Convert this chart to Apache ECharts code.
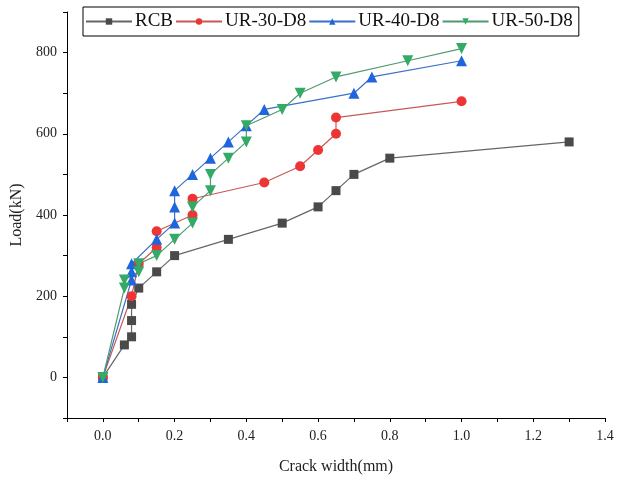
<!DOCTYPE html>
<html>
<head>
<meta charset="utf-8">
<script src="https://cdn.jsdelivr.net/npm/echarts@6/dist/echarts.min.js"></script>
<style>
html, body { margin: 0; padding: 0; background: #fff; }
#main { width: 618px; height: 479px; }
</style>
</head>
<body>
<div id="main"></div>
<script>
var seriesNames = ['RCB', 'UR-30-D8', 'UR-40-D8', 'UR-50-D8'];

var rcbWidth = [0, 0.06, 0.08, 0.08, 0.08, 0.1, 0.15, 0.2, 0.35, 0.5, 0.6, 0.65, 0.7, 0.8, 1.3];
var rcbLoad  = [0, 80, 100, 140, 180, 220, 260, 300, 340, 380, 420, 460, 500, 540, 580];

var ur30Width = [0, 0.08, 0.1, 0.15, 0.15, 0.25, 0.25, 0.45, 0.55, 0.6, 0.65, 0.65, 1.0];
var ur30Load  = [0, 200, 280, 320, 360, 400, 440, 480, 520, 560, 600, 640, 680];

var ur40Width = [0, 0.08, 0.08, 0.08, 0.15, 0.2, 0.2, 0.2, 0.25, 0.3, 0.35, 0.4, 0.45, 0.7, 0.75, 1.0];
var ur40Load  = [0, 240, 260, 280, 340, 380, 420, 460, 500, 540, 580, 620, 660, 700, 740, 780];

var ur50Width = [0, 0.06, 0.06, 0.1, 0.1, 0.15, 0.2, 0.25, 0.25, 0.3, 0.3, 0.35, 0.4, 0.4, 0.5, 0.55, 0.65, 0.85, 1.0];
var ur50Load  = [0, 220, 240, 260, 280, 300, 340, 380, 420, 460, 500, 540, 580, 620, 660, 700, 740, 780, 810];

function pairs(xs, ys) {
    return xs.map(function (x, i) { return [x, ys[i]]; });
}

var serif = '"Liberation Serif", "DejaVu Serif", serif';

var myChart = echarts.init(document.getElementById('main'));
var option = {
    animation: false,
    grid: { left: 67, right: 13, top: 12, bottom: 61, outerBoundsMode: 'none' },
    legend: {
        left: 83,
        top: 7,
        width: 500,
        padding: [5, 6, 5, 2],
        itemGap: 2,
        itemWidth: 46,
        itemHeight: 8,
        borderColor: '#000',
        borderWidth: 1,
        textStyle: { fontFamily: serif, fontSize: 19, color: '#111', padding: [0, 0, 0, -2] },
        data: seriesNames
    },
    xAxis: {
        type: 'value',
        min: -0.1,
        max: 1.4,
        interval: 0.1,
        name: 'Crack width(mm)',
        nameLocation: 'middle',
        nameGap: 41,
        nameTextStyle: { fontFamily: serif, fontSize: 16, color: '#222' },
        axisLine: { onZero: false, lineStyle: { color: '#000' } },
        axisTick: { inside: false, length: 4, lineStyle: { color: '#000' } },
        splitLine: { show: false },
        axisLabel: {
            fontFamily: serif, fontSize: 14, color: '#222', margin: 11,
            formatter: function (v) {
                var t = Math.round(v * 10);
                if (t < 0 || t % 2 !== 0) return '';
                return (t / 10).toFixed(1);
            }
        }
    },
    yAxis: {
        type: 'value',
        min: -100,
        max: 900,
        interval: 100,
        name: 'Load(kN)',
        nameLocation: 'middle',
        nameGap: 37,
        nameTextStyle: { fontFamily: serif, fontSize: 16, color: '#222' },
        axisLine: { show: true, onZero: false, lineStyle: { color: '#000' } },
        axisTick: { show: true, inside: false, length: 4, lineStyle: { color: '#000' } },
        splitLine: { show: false },
        axisLabel: {
            fontFamily: serif, fontSize: 14, color: '#222', margin: 10,
            formatter: function (v) {
                if (v < 0 || v % 200 !== 0) return '';
                return String(v);
            }
        }
    },
    series: [
        {
            name: 'RCB', type: 'line', data: pairs(rcbWidth, rcbLoad),
            symbol: 'rect', symbolSize: 9,
            itemStyle: { color: '#4a4a4a' },
            lineStyle: { color: '#666', width: 1.2 }
        },
        {
            name: 'UR-30-D8', type: 'line', data: pairs(ur30Width, ur30Load),
            symbol: 'circle', symbolSize: 10,
            itemStyle: { color: '#ee3535' },
            lineStyle: { color: '#c85858', width: 1.2 }
        },
        {
            name: 'UR-40-D8', type: 'line', data: pairs(ur40Width, ur40Load),
            symbol: 'triangle', symbolSize: 11,
            itemStyle: { color: '#1f66dd' },
            lineStyle: { color: '#3a70c8', width: 1.2 }
        },
        {
            name: 'UR-50-D8', type: 'line', data: pairs(ur50Width, ur50Load),
            symbol: 'triangle', symbolRotate: 180, symbolSize: 11,
            itemStyle: { color: '#33aa66' },
            lineStyle: { color: '#4f9a70', width: 1.2 }
        }
    ]
};
myChart.setOption(option);
</script>
</body>
</html>
